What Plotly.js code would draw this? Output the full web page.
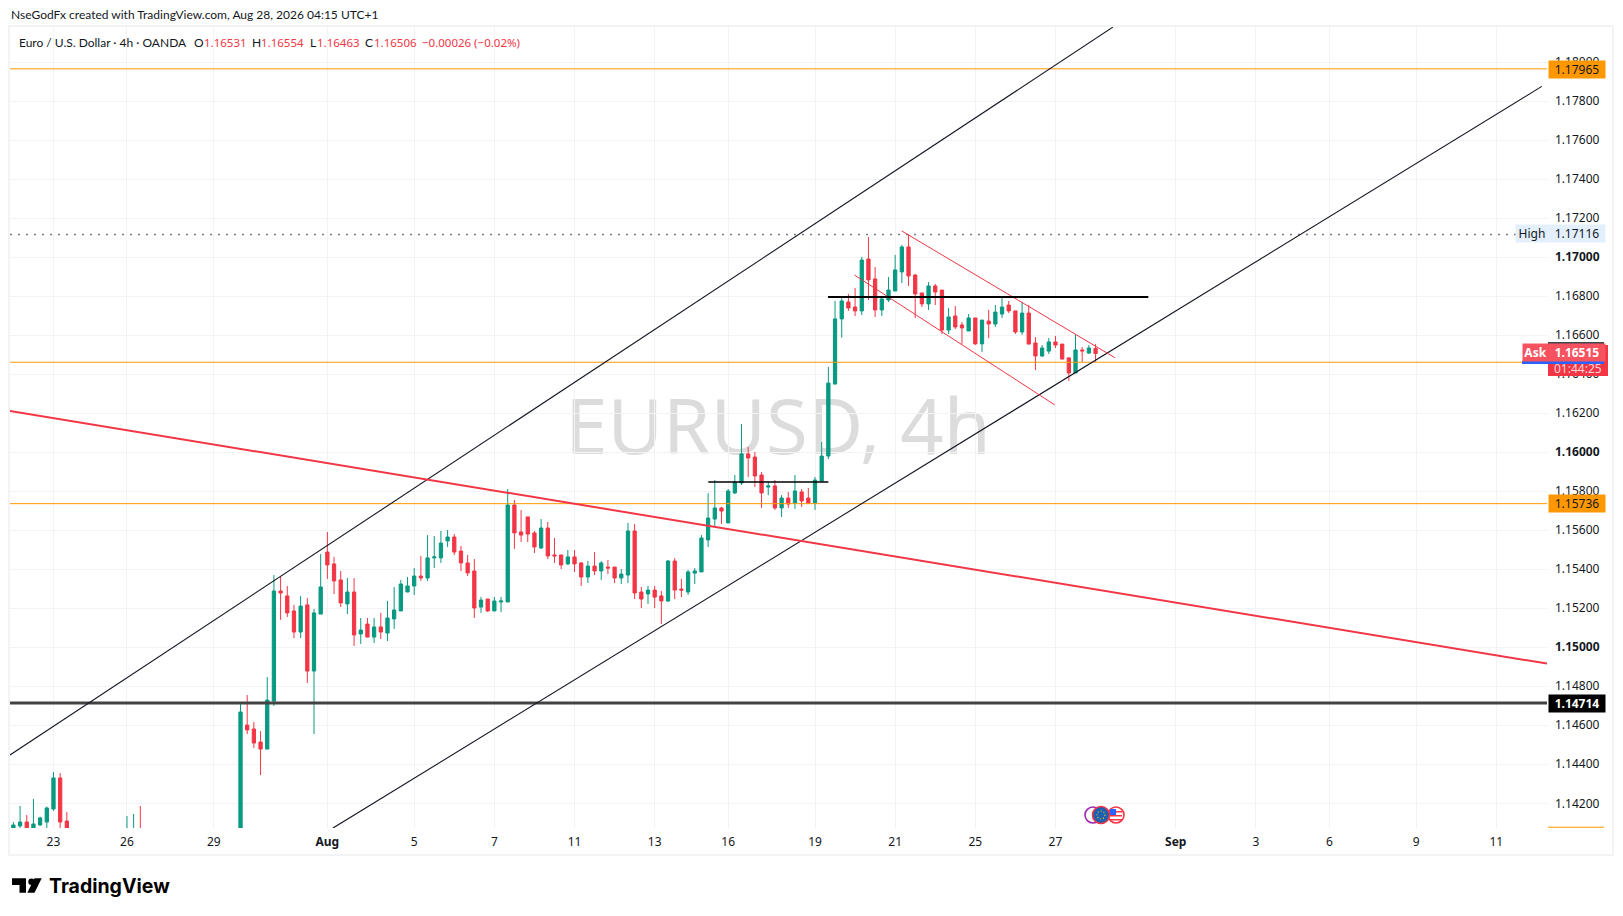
<!DOCTYPE html>
<html>
<head>
<meta charset="utf-8">
<script src="https://cdn.plot.ly/plotly-3.0.1.min.js"></script>
<style>
  html, body { margin: 0; padding: 0; background: #fff; }
</style>
</head>
<body>
<div id="grafico"></div>
<script>
// 4h candles. null = bar sits below the visible pane
var opens = [
  1.1405,1.14084,1.14104,1.1405,1.14089,1.14104,1.14171,1.1433,1.14109,null,
  null,null,null,null,null,null,null,1.1395,1.1402,1.1404,
  null,null,null,null,null,null,null,null,null,null,
  null,null,null,null,1.14,1.14601,1.14581,1.14514,1.14478,1.14724,
  1.15288,1.15263,1.15186,1.15078,1.15217,1.14878,1.1517,1.15488,1.15427,1.15345,
  1.15222,1.15283,1.15068,1.15119,1.15052,1.15104,1.15073,1.15145,1.15186,1.15283,
  1.15314,1.15365,1.15355,1.15458,1.15458,1.15545,1.15565,1.15493,1.15432,1.15391,
  1.15206,1.15247,1.15186,1.15232,1.15232,1.15729,1.15591,1.15668,1.15586,1.15509,
  1.15611,1.15473,1.15473,1.15427,1.15463,1.15432,1.1536,1.15416,1.15391,1.15411,
  1.15411,1.15355,1.1537,1.15596,1.15283,1.15273,1.15293,1.15263,1.15237,1.15442,
  1.15298,1.15283,1.1538,1.15386,1.1555,1.15657,1.15714,1.15637,1.15791,1.15842,
  1.15991,1.15975,1.15883,1.15821,1.15827,1.15714,1.15765,1.15739,1.15796,1.15765,
  1.15739,1.15852,1.1598,1.16349,1.16683,1.1677,1.16744,1.16724,1.1699,1.16888,
  1.16729,1.1678,1.16826,1.16924,1.17052,1.16908,1.16816,1.1676,1.16852,1.16831,
  1.16626,1.16698,1.16652,1.16621,1.16688,1.16555,1.16672,1.16657,1.16708,1.16754,
  1.16724,1.16616,1.16713,1.1656,1.16493,1.16518,1.16565,1.16554,1.16483,1.16406,
  1.16524,1.16508,1.16531
];
var highs = [
  1.14104,1.14186,1.1414,1.14222,1.14131,1.14183,1.1436,1.14355,1.14155,null,
  null,null,null,null,null,null,null,1.14135,1.14145,1.14186,
  null,null,null,null,null,null,null,null,null,null,
  null,null,null,null,1.14709,1.14755,1.14617,1.1457,1.14847,1.1537,
  1.15363,1.15314,1.15217,1.15263,1.15252,1.15196,1.15478,1.15591,1.15463,1.15391,
  1.15355,1.15355,1.1515,1.1515,1.1515,1.15176,1.15237,1.15309,1.15345,1.1536,
  1.15406,1.15468,1.15575,1.1557,1.15596,1.15601,1.1558,1.15519,1.15473,1.15452,
  1.15258,1.15247,1.15258,1.15258,1.15811,1.15755,1.15703,1.15668,1.15596,1.15657,
  1.15642,1.1556,1.15473,1.15498,1.15498,1.15437,1.15442,1.15488,1.15442,1.15447,
  1.15411,1.15401,1.15637,1.15632,1.15309,1.15314,1.15314,1.15288,1.15447,1.15457,
  1.1535,1.15396,1.15406,1.15575,1.1579,1.15857,1.15719,1.15811,1.15883,1.16144,
  1.16026,1.16001,1.15898,1.15852,1.15857,1.1578,1.15796,1.15883,1.15811,1.15816,
  1.15873,1.16052,1.16437,1.16775,1.1679,1.16811,1.16842,1.17001,1.17103,1.16949,
  1.16801,1.16898,1.17011,1.17062,1.17116,1.16913,1.16816,1.16872,1.16862,1.16831,
  1.16739,1.16749,1.16667,1.16708,1.16688,1.16677,1.16729,1.16754,1.168,1.16775,
  1.16724,1.1677,1.16754,1.1659,1.16549,1.16585,1.16595,1.16554,1.16488,1.16606,
  1.16539,1.16549,1.16554
];
var lows = [
  1.1402,1.1405,1.1403,1.1403,1.14084,1.1405,1.14161,1.1405,1.1402,null,
  null,null,null,null,null,null,null,1.139,1.1395,1.1395,
  null,null,null,null,null,null,null,null,null,null,
  null,null,null,null,1.1398,1.14555,1.14483,1.14345,1.14478,1.14699,
  1.1514,1.15155,1.15047,1.15047,1.14817,1.14555,1.1517,1.1535,1.15273,1.15206,
  1.1517,1.15006,1.15017,1.15052,1.15022,1.15042,1.15032,1.15094,1.15186,1.15283,
  1.15268,1.1534,1.1534,1.15406,1.15432,1.15514,1.15473,1.15391,1.15365,1.1515,
  1.15176,1.15181,1.15186,1.1518,1.15232,1.15504,1.15539,1.15539,1.15483,1.15504,
  1.15452,1.15432,1.15401,1.15422,1.15386,1.15314,1.15329,1.1537,1.15345,1.15375,
  1.15329,1.15324,1.15329,1.15247,1.15201,1.15222,1.15201,1.15119,1.15232,1.15247,
  1.15257,1.15268,1.15324,1.15386,1.15514,1.15621,1.15632,1.15637,1.15786,1.15832,
  1.15873,1.15821,1.15714,1.1578,1.15704,1.15668,1.15714,1.15709,1.15719,1.15734,
  1.15704,1.15847,1.15965,1.16349,1.16587,1.16724,1.16698,1.16703,1.1678,1.16693,
  1.16698,1.1677,1.16826,1.16867,1.16852,1.16688,1.16744,1.16729,1.16754,1.16606,
  1.16606,1.16631,1.16555,1.16621,1.1655,1.16513,1.16585,1.16642,1.16688,1.16713,
  1.16606,1.16601,1.16554,1.16421,1.16488,1.16503,1.16534,1.16477,1.16365,1.16406,
  1.16462,1.16503,1.16463
];
var closes = [
  1.14089,1.14104,1.1405,1.14094,1.14125,1.14176,1.1433,1.14104,1.1405,null,
  null,null,null,null,null,null,null,1.1402,1.1404,1.14,
  null,null,null,null,null,null,null,null,null,null,
  null,null,null,null,1.14668,1.14576,1.14509,1.14478,1.14729,1.15288,
  1.15278,1.15176,1.15078,1.15211,1.14878,1.15176,1.15309,1.15422,1.1534,1.15227,
  1.15283,1.15063,1.15088,1.15052,1.15104,1.15078,1.1515,1.15191,1.15324,1.15314,
  1.15365,1.15355,1.15458,1.15463,1.15534,1.15565,1.15488,1.15432,1.15381,1.15201,
  1.15242,1.15186,1.15237,1.15237,1.15729,1.15586,1.15575,1.1558,1.15514,1.15611,
  1.15468,1.15468,1.15422,1.15463,1.15427,1.1536,1.15416,1.15391,1.15432,1.15406,
  1.15355,1.15375,1.15596,1.15278,1.15247,1.15293,1.15257,1.15237,1.15442,1.15293,
  1.15293,1.15386,1.15391,1.1556,1.15662,1.15714,1.15698,1.15801,1.15847,1.15991,
  1.1597,1.15878,1.15791,1.15827,1.15714,1.15765,1.15734,1.15801,1.1575,1.15739,
  1.15857,1.1598,1.16354,1.16683,1.16775,1.16739,1.16724,1.16985,1.16883,1.16729,
  1.16785,1.16831,1.16934,1.17052,1.16903,1.16811,1.1676,1.16852,1.16821,1.16626,
  1.16693,1.16642,1.16637,1.16688,1.16555,1.16677,1.16657,1.16718,1.16744,1.16724,
  1.16616,1.16713,1.16554,1.16493,1.16534,1.16565,1.16549,1.16477,1.16406,1.16524,
  1.16519,1.16534,1.16506
];

// time axis: position in bars, so there are no weekend gaps
var dayBars = [6,17,30,47,60,72,84,96,107,120,132,144,156,174,186,197,210,222];
var dayLabels = ['23','26','29','<b>Aug</b>','5','7','11','13','16','19','21','25','27','<b>Sep</b>','3','6','9','11'];

var priceTicks = [1.142,1.144,1.146,1.148,1.15,1.152,1.154,1.156,1.158,1.16,1.162,1.164,1.166,1.168,1.17,1.172,1.174,1.176,1.178,1.18];
var priceLabels = ['1.14200','1.14400','1.14600','1.14800','<b>1.15000</b>','1.15200','1.15400','1.15600','1.15800','<b>1.16000</b>','1.16200','1.16400','1.16600','1.16800','<b>1.17000</b>','1.17200','1.17400','1.17600','1.17800','1.18000'];

// drawn lines: [from bar, to bar] and [from price, to price]
var channelUpX = [-0.51,164.6],  channelUpY = [1.14448,1.18179];
var channelLowX = [47.84,228.8], channelLowY = [1.14073,1.17875];
var bigRedX = [-0.51,229.58],    bigRedY = [1.16211,1.14916];
var flagUpX = [132.98,164.9],    flagUpY = [1.17134,1.16484];
var flagLowX = [125.9,155.9],    flagLowY = [1.16908,1.16242];
var resistX = [121.95,169.9],    resistY = [1.16795,1.16795];
var smallX = [104.03,122],       smallY = [1.15847,1.15847];
var edgeX = [-0.51,229.58];
var lineTop = 1.17965, lineMid = 1.15736, lineAsk = 1.16461, lineBlack = 1.14714, lineHigh = 1.17116;

var green = '#089981', red = '#F23645', orange = '#FF9800', ink = '#131722';
var fontTV = 'Lato, "Noto Sans", sans-serif';
var fontNum = '"Noto Sans", sans-serif';

var W = 1623, H = 916;
var paneL = 10, paneR = 1547, paneT = 27, paneB = 828;
function xp(px){ return (px - paneL) / (paneR - paneL); }
function yp(py){ return (paneB - py) / (paneB - paneT); }

function linea(x, y, color, width, dash){
  return {x: x, y: y, type: 'scatter', mode: 'lines', hoverinfo: 'skip', showlegend: false,
    line: {color: color, width: width, dash: dash || 'solid'}};
}

var velas = {
  x: opens.map(function(v, i){ return i; }),
  open: opens, high: highs, low: lows, close: closes,
  type: 'candlestick', showlegend: false, whiskerwidth: 0,
  increasing: {line: {color: green, width: 1}, fillcolor: green},
  decreasing: {line: {color: red, width: 1}, fillcolor: red}
};

var data = [
  velas,
  linea(edgeX, [lineTop,lineTop], orange, 1),
  linea(edgeX, [lineMid,lineMid], orange, 1),
  linea(edgeX, [lineAsk,lineAsk], orange, 1),
  linea(edgeX, [lineBlack,lineBlack], '#434343', 3),
  linea([edgeX[0],226], [lineHigh,lineHigh], '#787B86', 1.5, '2px,6px'),
  linea(channelUpX, channelUpY, ink, 1.1),
  linea(channelLowX, channelLowY, ink, 1.1),
  linea(bigRedX, bigRedY, red, 2),
  linea(flagUpX, flagUpY, red, 1),
  linea(flagLowX, flagLowY, red, 1),
  linea(resistX, resistY, '#000000', 2),
  linea(smallX, smallY, '#000000', 1.5)
];

function texto(txt, px, py, size, color, anchor, family){
  return {text: txt, xref: 'paper', yref: 'paper', x: xp(px), y: yp(py), xanchor: anchor || 'left', yanchor: 'middle',
    showarrow: false, align: 'left', borderpad: 0, font: {family: family || fontTV, size: size, color: color}};
}
function caja(txt, left, width, py, fill, color){
  return {text: txt, xref: 'paper', yref: 'paper', x: xp(left), y: yp(py), xanchor: 'left', yanchor: 'middle',
    width: width, height: 17, align: 'center', valign: 'middle', showarrow: false, borderpad: 0, bgcolor: fill,
    font: {family: fontNum, size: 12, color: color}};
}

var notas = [
  texto('NseGodFx created with TradingView.com, Aug 28, 2026 04:15 UTC+1', 10, 15, 12, ink),
  texto('Euro / U.S. Dollar · 4h · OANDA', 18, 42.5, 12, ink),
  texto('O', 193, 42.5, 12, ink), texto('1.16531', 203, 42.5, 11.5, red, 'left', fontNum),
  texto('H', 251, 42.5, 12, ink), texto('1.16554', 260, 42.5, 11.5, red, 'left', fontNum),
  texto('L', 309, 42.5, 12, ink), texto('1.16463', 316, 42.5, 11.5, red, 'left', fontNum),
  texto('C', 364, 42.5, 12, ink), texto('1.16506', 373, 42.5, 11.5, red, 'left', fontNum),
  texto('\u22120.00026 (\u22120.02%)', 421, 42.5, 11.5, red, 'left', fontNum),
  caja('1.17965', 1548, 56, 69.5, orange, ink),
  caja('High', 1515, 32, 234, '#E3EFFD', ink),
  caja('1.17116', 1548, 56, 234, '#E3EFFD', ink),
  caja('1.15736', 1548, 56, 503.5, orange, ink),
  caja('<b>1.14714</b>', 1548, 56, 703.5, '#000000', '#ffffff'),
  caja('<b>Ask</b>', 1522, 25, 352.5, '#F7525F', '#ffffff'),
  caja('<b>1.16515</b>', 1548, 56, 352.5, '#F7525F', '#ffffff'),
  texto('01:44:25', 1578, 368, 12, 'rgba(255,255,255,0.8)', 'center', fontNum),
  texto('<b>TradingView</b>', 48, 885.5, 19.5, '#000000', 'left', 'Inter, sans-serif')
];

function rect(x0, y0, x1, y1, fill){
  return {type: 'rect', xref: 'paper', yref: 'paper', x0: xp(x0), x1: xp(x1), y0: yp(y0), y1: yp(y1),
    fillcolor: fill, line: {width: 0}, layer: 'above'};
}
function aro(cx, cy, r, fill, col, w, dash){
  return {type: 'circle', xref: 'paper', yref: 'paper', x0: xp(cx-r), x1: xp(cx+r), y0: yp(cy+r), y1: yp(cy-r),
    fillcolor: fill, line: {color: col, width: w, dash: dash || 'solid'}, layer: 'above'};
}
function trazo(path, fill){
  return {type: 'path', xref: 'paper', yref: 'paper', path: path, fillcolor: fill, line: {width: 0}, layer: 'above'};
}
function pt(x, y){ return xp(x) + ',' + yp(y); }

var formas = [
  // watermark, sits under the candles
  {type: 'rect', xref: 'paper', yref: 'paper', x0: xp(558), x1: xp(998), y0: yp(472), y1: yp(387),
    fillcolor: 'rgba(0,0,0,0)', line: {width: 0}, layer: 'below',
    label: {text: 'EURUSD, 4h', textposition: 'middle center', font: {family: fontNum, size: 76, color: '#dcdcdc'}}},
  // outer frame
  {type: 'rect', xref: 'paper', yref: 'paper', x0: xp(9), x1: xp(1613), y0: yp(855), y1: yp(26),
    fillcolor: 'rgba(0,0,0,0)', line: {color: '#f2f3f5', width: 2}, layer: 'below'},
  rect(1548, 342, 1604, 346, '#434651'),
  rect(1548, 345, 1608, 376, red),
  rect(1522, 361, 1604, 364, '#2962FF'),
  rect(1548, 826.8, 1604, 827.8, orange),
  // currency badges
  aro(1093, 815, 8, '#ffffff', '#9C27B0', 1.6),
  aro(1116, 815, 8, '#ffffff', red, 1.6),
  rect(1110, 811, 1122, 812.5, red), rect(1110, 815, 1122, 816.5, red), rect(1110, 819, 1122, 820.5, red),
  rect(1110, 809, 1116, 815, '#2962FF'),
  aro(1101, 815, 8.5, '#1D5FB0', red, 1.6),
  aro(1101, 815, 4, 'rgba(0,0,0,0)', '#F5C518', 1.2, '1px,2px'),
  // logo mark
  trazo('M' + pt(12,878.3) + 'L' + pt(26,878.3) + 'L' + pt(26,892.7) + 'L' + pt(19.5,892.7) + 'L' + pt(19.5,885) + 'L' + pt(12,885) + 'Z', '#000000'),
  trazo('M' + pt(34.5,878.3) + 'L' + pt(41.7,878.3) + 'L' + pt(34.5,892.7) + 'L' + pt(27.3,892.7) + 'Z', '#000000'),
  aro(31.5, 881.7, 3.2, '#000000', '#000000', 0)
];

var layout = {
  width: W, height: H, autosize: false,
  margin: {l: paneL, r: W - paneR, t: paneT, b: H - paneB, pad: 0},
  paper_bgcolor: '#ffffff', plot_bgcolor: '#ffffff',
  showlegend: false, boxgap: 0.3, hovermode: false, dragmode: false,
  xaxis: {
    type: 'linear', range: [-0.509, 229.58], rangeslider: {visible: false},
    tickmode: 'array', tickvals: dayBars, ticktext: dayLabels, ticks: '', ticklabelstandoff: 5,
    showgrid: true, gridcolor: '#f2f3f5', gridwidth: 1, zeroline: false, showline: false,
    tickfont: {family: fontNum, size: 12, color: ink}
  },
  yaxis: {
    side: 'right', range: [1.140734, 1.181794],
    tickmode: 'array', tickvals: priceTicks, ticktext: priceLabels, ticks: '', ticklabelstandoff: 7,
    showgrid: true, gridcolor: '#f2f3f5', gridwidth: 1, zeroline: false, showline: false,
    tickfont: {family: fontNum, size: 12, color: ink}
  },
  annotations: notas,
  shapes: formas
};

Plotly.newPlot('grafico', data, layout, {displayModeBar: false, staticPlot: true});
</script>
</body>
</html>
